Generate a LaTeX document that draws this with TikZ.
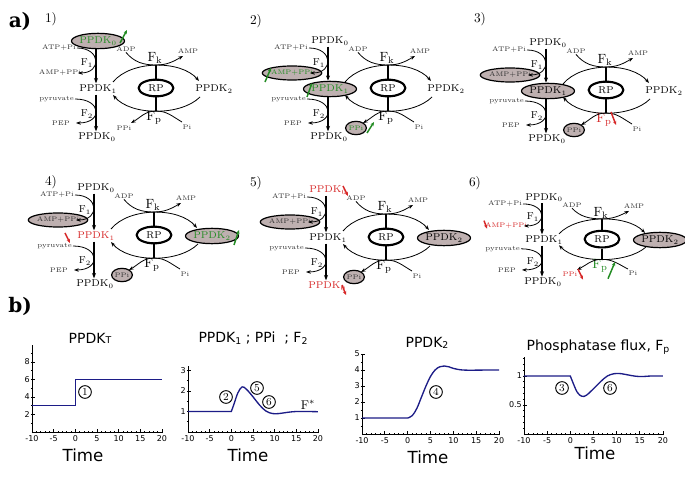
\documentclass[tikz,border=0pt]{standalone}
\usepackage{fontspec}
\usetikzlibrary{shapes.geometric,arrows.meta,calc}
\newfontfamily\plotfont{DejaVu Sans}
\newfontfamily\labfont{DejaVu Serif}
\definecolor{hlgray}{RGB}{190,176,176}
\definecolor{grn}{RGB}{35,140,35}
\definecolor{rd}{RGB}{215,40,40}
\definecolor{crv}{RGB}{28,28,135}
\newcommand{\sbs}[1]{\raisebox{-0.2ex}{\fontsize{7}{8}\selectfont #1}}
\tikzset{
  lbl/.style={font=\fontsize{7.4}{8}\selectfont, inner sep=1pt},
  sm/.style={font=\fontsize{5}{6}\selectfont, inner sep=0.6pt, text=black!80},
  flab/.style={font=\fontsize{7.5}{8}\selectfont, inner sep=0.5pt},
  fbig/.style={font=\fontsize{10}{11}\selectfont, inner sep=0.5pt},
  rpnode/.style={ellipse, draw, line width=1.6pt, minimum width=26pt, minimum height=12.5pt, inner sep=0pt, font=\fontsize{7.5}{8}\selectfont},
  varr/.style={-{Stealth[length=4pt,width=3pt]}, line width=0.9pt},
  carr/.style={-{Stealth[length=3.5pt,width=2.6pt]}, line width=0.6pt},
  cline/.style={line width=0.8pt},
  hl/.style={ellipse, draw, line width=0.9pt, fill=hlgray, inner sep=0pt, minimum width=29.5pt, minimum height=11.5pt},
  hlA/.style={ellipse, draw, line width=0.9pt, fill=hlgray, inner sep=0pt, minimum width=29pt, minimum height=10.5pt},
  hlP/.style={ellipse, draw, line width=0.9pt, fill=hlgray, inner sep=0pt, minimum width=15pt, minimum height=10pt},
  sPt/.style={}, sPa/.style={}, sPb/.style={}, sP2/.style={}, sAMP/.style={}, sPPi/.style={}, sFp/.style={},
  garr/.style={-{Stealth[length=3pt,width=2.6pt]}, line width=1.1pt, draw=grn},
  rarr/.style={-{Stealth[length=3pt,width=2.6pt]}, line width=1.1pt, draw=rd},
  pnum/.style={font=\fontsize{10}{12}\selectfont, inner sep=0pt},
  biglab/.style={font={\fontsize{15}{17}\selectfont\labfont\bfseries}, inner sep=0pt},
  ax/.style={line width=0.6pt},
  ticklab/.style={font={\fontsize{6}{7}\selectfont\plotfont}, inner sep=0.3pt},
  ttl/.style={font={\fontsize{10.5}{12}\selectfont\plotfont}, inner sep=0pt},
  timel/.style={font={\fontsize{12.5}{14}\selectfont\plotfont}, inner sep=0pt},
  crvl/.style={draw=crv, line width=1pt},
  cnum/.style={circle, draw, line width=0.7pt, minimum size=9.5pt, inner sep=0pt, font=\fontsize{8}{9}\selectfont},
}
\newcommand{\skel}{%
  \node[lbl,sPt] (p0t) at (2,-48) {PPDK$_0$};
  \node[lbl,sPa] (p1) at (2,0) {PPDK$_1$};
  \node[lbl,sPb] (p0b) at (1,48) {PPDK$_0$};
  \node[lbl,sP2] (p2) at (118,0) {PPDK$_2$};
  \node[sm,anchor=east] (atp) at (-19,-41) {ATP+Pi};
  \node[sm,sAMP] (amp) at (-36,-16) {AMP+PPi};
  \node[sm,anchor=east] (pyr) at (-21,10) {pyruvate};
  \node[sm,anchor=east] (pep) at (-25,34) {PEP};
  \node[sm] (adp) at (30,-40) {ADP};
  \node[sm] (ampk) at (92,-38) {AMP};
  \node[sm,sPPi] (ppi) at (28,39) {PPi};
  \node[sm] (pi) at (91,38) {Pi};
  \node[flab] (f1) at (-9,-26) {F$_1$};
  \node[flab] (f2) at (-9,25) {F$_2$};
  \node[fbig] (fk) at (59,-31) {F$_\mathrm{k}$};
  \node[fbig,sFp] (fp) at (58,29) {F$_\mathrm{p}$};
  \node[rpnode] (rp) at (60,-1) {RP};
  \coordinate (v) at (0,0);
  \coordinate (jk) at (60,-24);
  \coordinate (jp) at (60,22);
  \coordinate (a1) at (17,-7);
  \coordinate (a2) at (103,-8);
  \coordinate (b1) at (104,8);
  \coordinate (b2) at (17,6);
  \coordinate (ampE) at (-18,-16);
  \coordinate (pepE) at (-20,34);
  \coordinate (ampT) at (87,-33);
  \coordinate (ppiE) at (35,34);
  \coordinate (piS) at (86,33);
  \draw[varr] (v |- p0t.south) -- (v |- p1.north);
  \draw[varr] (v |- p1.south) -- (v |- p0b.north);
  \draw[carr] (atp.east) .. controls +(24,0) and +(24,0) .. (ampE);
  \draw[carr] (pyr.east) .. controls +(27,0) and +(27,0) .. (pepE);
  \draw[carr] (a1) .. controls (35,-29) and (85,-29) .. (a2);
  \draw[carr] (b1) .. controls (85,27) and (35,27) .. (b2);
  \draw[carr] (adp.south) to[out=-50,in=180] (jk) to[out=0,in=-150] (ampT);
  \draw[carr] (piS) to[out=150,in=0] (jp) to[out=180,in=30] (ppiE);
  \draw[cline] (jk) -- (rp.north);
  \draw[cline] (rp.south) -- (jp);
}
\newcommand{\plotaxes}[6]{%
  \draw[ax] ({#2-10*#4},#3) -- ({#2+20*#4},#3);
  \draw[ax] ({#2-10*#4},#3) -- ({#2-10*#4},{#3-#6*#5});
  \foreach \t in {-10,...,20} {\draw[ax] ({#2+\t*#4},{#3+1.2}) -- ({#2+\t*#4},{#3-1.2});}
  \foreach \t [count=\i] in {-10,-5,...,20} {\draw[ax] ({#2+\t*#4},{#3+1.2}) -- ({#2+\t*#4},{#3-2.8});
     \node[ticklab] (#1x\i) at ({#2+\t*#4},{#3+6.5}) {\t};}
}
\newcommand{\plotyticks}[6]{%
  \foreach \v in {#5} {\draw[ax] ({#2-1.2},{#3-\v*#4}) -- ({#2+1.2},{#3-\v*#4});}
  \foreach \v [count=\i] in {#6} {\draw[ax] ({#2-1.2},{#3-\v*#4}) -- ({#2+2.8},{#3-\v*#4});
     \node[ticklab,anchor=east] (#1y\i) at ({#2-1.5},{#3-\v*#4}) {\v};}
}
\begin{document}
\begin{tikzpicture}[x=0.75pt,y=-0.75pt]
\path[use as bounding box, fill=white] (0,0) rectangle (685,484);
% labels
\node[biglab] (la) at (20,21) {a)};
\node[biglab] (lb) at (20,306) {b)};
\node[pnum] (n1) at (51,19) {1)};
\node[pnum] (n2) at (256,21) {2)};
\node[pnum] (n3) at (480,19) {3)};
\node[pnum] (n4) at (51,182) {4)};
\node[pnum] (n5) at (256,183) {5)};
\node[pnum] (n6) at (475,183) {6)};
% panel 1
\begin{scope}[shift={(96,89)}, name prefix=A-, sPt/.style={hl,text=grn}]
  \skel
  \draw[garr] (24,-46) -- (31,-59);
\end{scope}
% panel 2
\begin{scope}[shift={(328,89)}, name prefix=B-, sAMP/.style={hlA,text=grn}, sPa/.style={hl,text=grn}, sPPi/.style={hlP,text=grn}]
  \skel
  \draw[garr] (-63,-7) -- (-57,-21);
  \draw[garr] (-21,8) -- (-16,-6);
  \draw[garr] (39,44) -- (46,33);
\end{scope}
% panel 3
\begin{scope}[shift={(546,91)}, name prefix=C-, sAMP/.style={hlA}, sPa/.style={hl}, sPPi/.style={hlP}, sFp/.style={text=rd}]
  \skel
  \draw[rarr] (65,21) -- (70,34);
\end{scope}
% panel 4
\begin{scope}[shift={(94,236)}, name prefix=D-, sAMP/.style={hlA}, sPa/.style={text=rd}, sP2/.style={hl,text=grn}, sPPi/.style={hlP}]
  \skel
  \draw[rarr] (-29,-3) -- (-24,7);
  \draw[garr] (140,9) -- (145,-6);
\end{scope}
% panel 5
\begin{scope}[shift={(326,238)}, name prefix=E-, sPt/.style={text=rd}, sAMP/.style={hlA}, sP2/.style={hl}, sPPi/.style={hlP}, sPb/.style={text=rd}]
  \skel
  \draw[rarr] (17,-52) -- (22,-42);
  \draw[rarr] (16,47) -- (20,57);
\end{scope}
% panel 6
\begin{scope}[shift={(542,240)}, yscale=0.88, name prefix=F-, sAMP/.style={text=rd}, sP2/.style={hl}, sPPi/.style={text=rd}, sFp/.style={text=grn}]
  \skel
  \draw[rarr] (-58,-22) -- (-55,-13);
  \draw[rarr] (36,33) -- (41,45);
  \draw[garr] (66,44) -- (73,25);
\end{scope}
% ---------- plots ----------
% plot 1
\node[ttl] (t1) at (90,338) {PPDK{\fontsize{7}{8}\selectfont T}};
\plotaxes{P1}{75.3}{432}{4.333}{8.75}{9.9}
\plotyticks{P1}{32}{432}{8.75}{1,3,5,7,9}{2,4,6,8}
\begin{scope}[shift={(75.3,432)}, xscale=4.333, yscale=-8.75]
  \draw[crvl] plot[sharp plot] coordinates {(-10,3) (0,3) (0,6) (20,6)};
\end{scope}
\node[cnum] (c1) at (85,392) {1};
\node[timel] (tm1) at (83,455) {Time};
% plot 2
\node[ttl] (t2) at (253,338) {PPDK\sbs{1} ; PPi \ ; F\sbs{2}};
\plotaxes{P2}{231.3}{432}{4.333}{20.5}{3.2}
\plotyticks{P2}{188}{432}{20.5}{0.5,1.5,2.5}{1,2,3}
\begin{scope}[shift={(231.3,432)}, xscale=4.333, yscale=-20.5]
  \draw[crvl] (-10,1) -- plot[smooth, tension=0.6] coordinates {(0,1) (0.6,1.35) (1.5,1.9) (2.5,2.2) (3.5,2.08) (5,1.72) (6.5,1.32) (8,1.02) (9.5,0.9) (11,0.9) (13,0.96) (15,1.0) (17.5,1.0) (20,0.99)};
\end{scope}
\node[cnum] (c2) at (226,397) {2};
\node[cnum] (c5) at (257,388) {5};
\node[cnum] (c6a) at (269,402) {6};
\node[font=\fontsize{9.5}{10}\selectfont, inner sep=0pt] (fs) at (308,405) {F$^*$};
\node[timel] (tm2) at (248,455) {Time};
% plot 3
\node[ttl] (t3) at (427,343) {PPDK\sbs{2}};
\plotaxes{P3}{407.7}{434}{4.567}{16}{5.0}
\plotyticks{P3}{362}{434}{16}{0.5,1.5,2.5,3.5,4.5}{1,2,3,4,5}
\begin{scope}[shift={(407.7,434)}, xscale=4.567, yscale=-16]
  \draw[crvl] (-10,1) -- plot[smooth, tension=0.6] coordinates {(0,1) (1,1.15) (2,1.6) (3,2.3) (4,3.0) (5,3.6) (6,4.0) (7,4.2) (8,4.25) (9,4.2) (10,4.1) (12,4.0) (15,3.99) (17.5,4.0) (20,4.0)};
\end{scope}
\node[cnum] (c4) at (436,392) {4};
\node[timel] (tm3) at (428,457) {Time};
% plot 4
\node[ttl] (t4) at (598,347) {Phosphatase flux, F\sbs{p}};
\plotaxes{P4}{570.3}{434}{4.633}{58}{1.33}
\plotyticks{P4}{524}{434}{58}{0.1,0.2,0.3,0.4,0.6,0.7,0.8,0.9,1.1,1.2,1.3}{0.5,1}
\begin{scope}[shift={(570.3,434)}, xscale=4.633, yscale=-58]
  \draw[crvl] (-10,1) -- plot[smooth, tension=0.6] coordinates {(0,1) (0.6,0.88) (1.5,0.72) (2.5,0.65) (3.5,0.67) (5,0.78) (6.5,0.9) (8,1.0) (9.5,1.04) (11,1.04) (13,1.01) (15,0.99) (17.5,1.0) (20,1.0)};
\end{scope}
\node[cnum] (c3) at (562,388) {3};
\node[cnum] (c6b) at (610,388) {6};
\node[timel] (tm4) at (595,453) {Time};
\end{tikzpicture}
\end{document}
